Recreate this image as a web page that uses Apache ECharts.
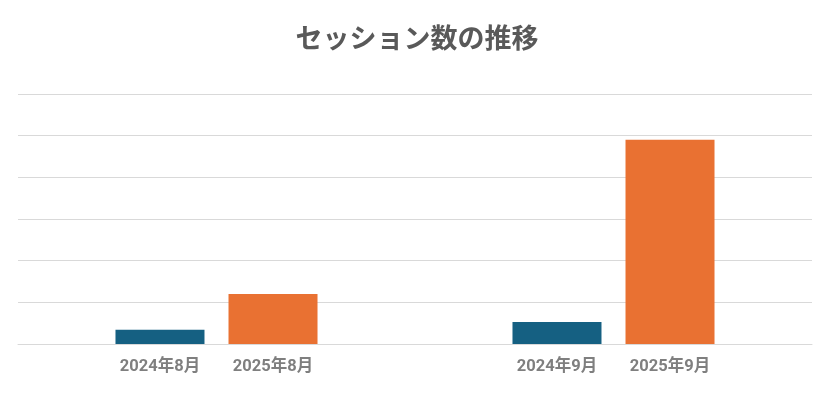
<!DOCTYPE html>
<html><head><meta charset="utf-8">
<script src="https://cdn.jsdelivr.net/npm/echarts@6/dist/echarts.min.js"></script>
<style>html,body{margin:0;padding:0;background:#fff}#c{width:834px;height:407px}</style>
</head><body><div id="c"></div>
<script>
const months = ['8月', '9月'];
const series2024Labels = ['2024年8月', '2024年9月'];
const series2025Labels = ['2025年8月', '2025年9月'];
const values2024 = [34, 53];
const values2025 = [120, 490];
const yTicks = [0, 100, 200, 300, 400, 500, 600];

const chart = echarts.init(document.getElementById('c'));
const labelStyle = {
  show: true, position: 'bottom', distance: 15,
  color: '#7f7f7f', fontSize: 16.5, fontWeight: 'bold',
  fontFamily: 'Roboto, "Noto Sans CJK JP", sans-serif'
};
chart.setOption({
  animation: false,
  title: {
    text: 'セッション数の推移', left: 'center', top: 19,
    textStyle: { color: '#595959', fontSize: 27, fontWeight: 'bold', fontFamily: '"Noto Sans CJK JP", sans-serif' }
  },
  grid: { left: 18, right: 22, top: 94, bottom: 63 },
  xAxis: {
    type: 'category', data: months,
    axisLine: { lineStyle: { color: '#d9d9d9' } },
    axisTick: { show: false }, axisLabel: { show: false }
  },
  yAxis: {
    type: 'value', min: yTicks[0], max: yTicks[yTicks.length - 1], interval: yTicks[1] - yTicks[0],
    axisLabel: { show: false }, axisLine: { show: false }, axisTick: { show: false },
    splitLine: { lineStyle: { color: '#d9d9d9' } }
  },
  series: [
    {
      type: 'bar', name: '2024', barWidth: 89, barGap: '27%',
      itemStyle: { color: '#156082' },
      data: values2024.map((v, i) => ({ value: v, label: Object.assign({}, labelStyle, { formatter: series2024Labels[i] }) }))
    },
    {
      type: 'bar', name: '2025', barWidth: 89,
      itemStyle: { color: '#E97132' },
      data: values2025.map((v, i) => ({ value: v, label: Object.assign({}, labelStyle, { formatter: series2025Labels[i] }) }))
    }
  ]
});
</script></body></html>
